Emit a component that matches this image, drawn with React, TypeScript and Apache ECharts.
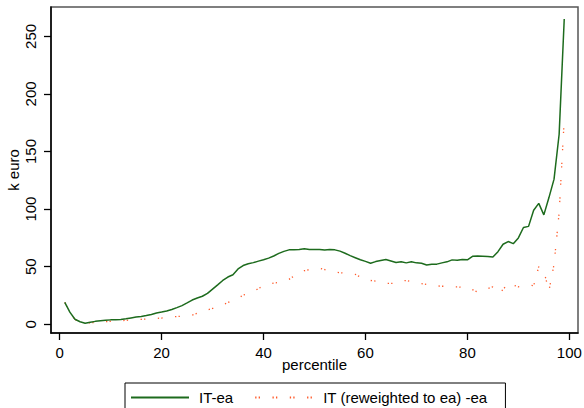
import React, { useEffect, useRef } from "react";
import * as echarts from "echarts";

const percentiles: number[] = Array.from({ length: 99 }, (_, i) => i + 1);

const itEa: number[] = [
  19, 10.5, 4.3, 2.2, 0.9, 1.8, 2.5, 3, 3.4, 3.8,
  4, 4.2, 4.8, 5.5, 6.2, 6.8, 7.6, 8.5, 9.8, 10.6,
  11.5, 12.8, 14.4, 16.2, 18.5, 21, 22.8, 24.3, 26.8, 30.5,
  34.2, 38, 41, 43, 48, 51, 52.5, 53.5, 54.8, 56,
  57.4, 59.3, 61.5, 63.3, 64.6, 64.7, 64.9, 65.5, 64.9, 64.9,
  64.9, 64.4, 64.9, 64.6, 63.5, 61.7, 59.6, 57.8, 56, 54.6,
  53, 54.4, 55.4, 56.3, 55, 53.6, 54.3, 53.3, 54.3, 53.3,
  53, 51.5, 52.2, 52.2, 53.3, 54.2, 55.9, 55.5, 56.3, 56,
  59, 59.2, 59, 58.8, 58.4, 63, 69.5, 71.8, 70, 75,
  84, 85, 99, 105, 95, 110, 126, 165, 265,
];

const itReweighted: number[] = [
  19, 10, 4, 2, 1, 1.3, 1.5, 1.9, 2.3, 2.6,
  2.9, 3.1, 3.4, 3.7, 4, 4.3, 4.5, 4.8, 5.1, 5.4,
  5.9, 6.3, 6.7, 7, 7.3, 8, 9.5, 11, 12.5, 13.7,
  15.5, 17, 18.8, 20.8, 22.5, 25.3, 26.7, 28.3, 31, 33.5,
  35, 35.8, 36.3, 37, 39, 42, 45, 46.5, 47.5, 48.3,
  48.7, 47.5, 46, 45.3, 44.8, 44.3, 44, 43.3, 41, 38.5,
  38, 37.5, 36, 35.5, 35.5, 35.6, 37.5, 38, 37, 36,
  35.3, 34.5, 33.5, 33.3, 33, 33, 32.5, 32.5, 32, 32.5,
  30, 28, 29, 31, 32.5, 27, 30, 36, 34, 32.5,
  33, 34, 33.5, 50, 46, 29, 52, 97, 178,
];

const xTicks: number[] = [0, 20, 40, 60, 80, 100];
const yTicks: number[] = [0, 50, 100, 150, 200, 250];

const FONT = "'Liberation Sans', Arial, sans-serif";

export default function App() {
  const ref = useRef<HTMLDivElement>(null);
  useEffect(() => {
    if (!ref.current) return;
    document.body.style.margin = "0";
    const chart = echarts.init(ref.current, null, { renderer: "svg" });
    chart.setOption({
      animation: false,
      backgroundColor: "#ffffff",
      textStyle: { fontFamily: FONT, color: "#000" },
      grid: {
        left: 51,
        right: 6,
        top: 7,
        bottom: 75,
        show: true,
        borderColor: "#555",
        borderWidth: 1.5,
        containLabel: false,
        outerBoundsMode: "none",
      },
      xAxis: {
        type: "value",
        min: -1.7,
        max: 101.7,
        name: "percentile",
        nameLocation: "middle",
        nameGap: 24,
        nameMoveOverlap: false,
        nameTextStyle: { fontSize: 15, color: "#000", fontFamily: FONT },
        axisLine: { show: true, onZero: false, lineStyle: { color: "#000", width: 1.5 } },
        axisTick: { show: true, customValues: xTicks, length: 7, lineStyle: { color: "#000", width: 1.3 } },
        axisLabel: { customValues: xTicks, margin: 12, fontSize: 15, color: "#000", fontFamily: FONT },
        splitLine: { show: false },
      },
      yAxis: {
        type: "value",
        min: -7.6,
        max: 275.5,
        name: "k euro",
        nameLocation: "middle",
        nameGap: 30,
        nameMoveOverlap: false,
        nameRotate: 90,
        nameTextStyle: { fontSize: 15, color: "#000", fontFamily: FONT },
        axisLine: { show: true, onZero: false, lineStyle: { color: "#000", width: 1.5 } },
        axisTick: { show: true, customValues: yTicks, length: 7, lineStyle: { color: "#000", width: 1.3 } },
        axisLabel: { customValues: yTicks, rotate: 90, margin: 13, fontSize: 15, color: "#000", fontFamily: FONT },
        splitLine: { show: false },
      },
      legend: {
        left: 125,
        top: 383,
        padding: [7, 18, 7, 5],
        itemGap: 21,
        itemWidth: 58,
        itemHeight: 14,
        borderColor: "#000",
        borderWidth: 1,
        borderRadius: 0,
        itemStyle: { opacity: 0 },
        textStyle: { fontSize: 15, color: "#000", fontFamily: FONT, padding: [0, 0, 0, 5] },
        data: ["IT-ea", "IT (reweighted to ea) -ea"],
      },
      series: [
        {
          name: "IT-ea",
          type: "line",
          symbol: "none",
          data: percentiles.map((p, i) => [p, itEa[i]]),
          lineStyle: { color: "#1d6b1d", width: 1.5 },
          itemStyle: { color: "#1d6b1d" },
          z: 3,
        },
        {
          name: "IT (reweighted to ea) -ea",
          type: "line",
          symbol: "none",
          data: percentiles.map((p, i) => [p, itReweighted[i]]),
          lineStyle: { color: "#ff5a2a", width: 1.3, type: [1.3, 2.2, 1.3, 12.5] },
          itemStyle: { color: "#ff5a2a" },
          z: 2,
        },
      ],
    });
    return () => chart.dispose();
  }, []);
  return <div ref={ref} style={{ width: 584, height: 408 }} />;
}
